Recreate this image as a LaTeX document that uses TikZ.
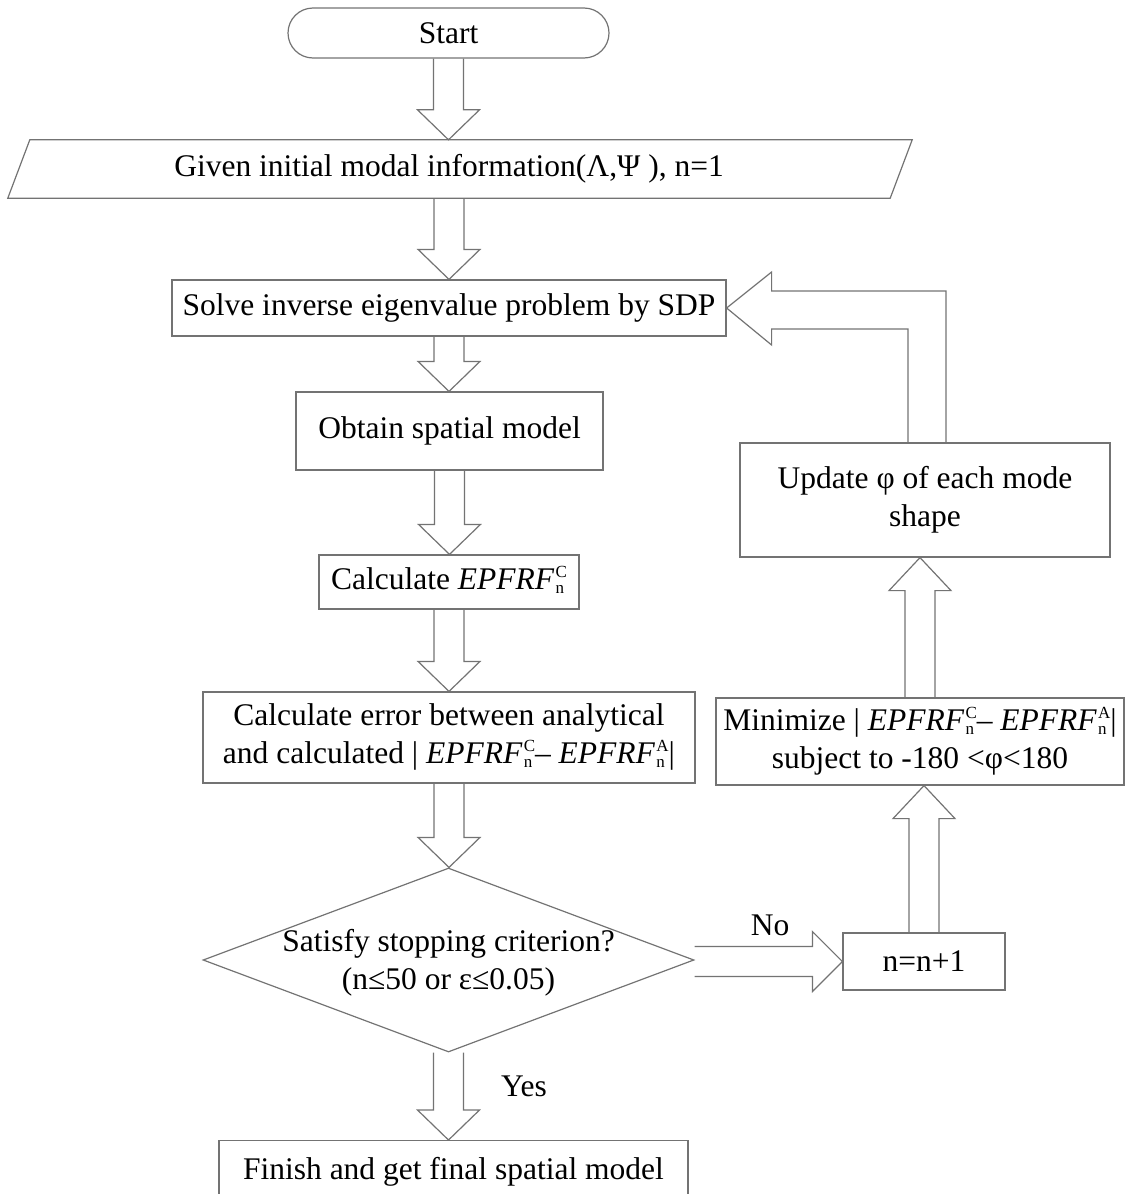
\documentclass[tikz,border=0pt]{standalone}
\usepackage{fontspec}
\setmainfont{Liberation Serif}
\usetikzlibrary{shapes.geometric,calc}
\definecolor{linec}{rgb}{0.45,0.45,0.45}
\newcommand\ep[1]{{\itshape EPFRF}\kern1.5pt\raisebox{-4pt}{\fontsize{17}{16}\selectfont\begin{tabular}[b]{@{}l@{}}#1\\n\end{tabular}}}
\newcommand\blkdown[2]{\draw[blk] let \p1=(#1.south), \p2=(#2.north) in
  (\x1-15pt,\y1) -- (\x1-15pt,\y2+30pt) -- (\x1-31pt,\y2+30pt) -- (\x1,\y2) --
  (\x1+31pt,\y2+30pt) -- (\x1+15pt,\y2+30pt) -- (\x1+15pt,\y1);}
\newcommand\blkup[2]{\draw[blk] let \p1=(#1.north), \p2=(#2.south) in
  (\x1-15pt,\y1) -- (\x1-15pt,\y2-33pt) -- (\x1-31pt,\y2-33pt) -- (\x1,\y2) --
  (\x1+31pt,\y2-33pt) -- (\x1+15pt,\y2-33pt) -- (\x1+15pt,\y1);}
\begin{document}
\begin{tikzpicture}[x=1pt,y=-1pt,
  every node/.style={font=\fontsize{31.5}{38}\selectfont},
  box/.style={draw=linec, line width=1.2pt, rectangle, inner sep=0pt, align=center},
  blk/.style={draw=linec, line width=1.2pt, line join=miter},
]
\useasboundingbox (0,0) rectangle (1126,1194);
\node[box, rounded corners=25pt, minimum width=321pt, minimum height=50pt] (start) at (448.5,33) {Start};
\node[minimum width=882pt, minimum height=58pt, inner sep=0pt] (given) at (449,169) {Given initial modal information(Λ,Ψ ), n=1};
\draw[blk] (given.south west) -- ($(given.north west)+(22,0)$) -- ($(given.north east)+(22,0)$) -- (given.south east) -- cycle;
\node[box, minimum width=554pt, minimum height=56pt] (solve) at (449,308) {Solve inverse eigenvalue problem by SDP};
\node[box, minimum width=307pt, minimum height=78pt] (obtain) at (449.5,431) {Obtain spatial model};
\node[box, minimum width=260pt, minimum height=54pt] (calc) at (449,582) {Calculate \ep{C}};
\node[box, minimum width=492pt, minimum height=91pt] (err) at (449,737.5) {Calculate error between analytical\\and calculated | \ep{C}– \ep{A}|};
\node[diamond, draw=linec, line width=1.2pt, minimum width=491pt, minimum height=184pt, inner sep=0pt, aspect=2.67] (dia) at (448.5,960) {};
\node[align=center] (diatext) at ($(dia.center)+(0,3)$) {Satisfy stopping criterion?\\(n≤50 or ε≤0.05)};
\node[box, minimum width=469pt, minimum height=62pt, anchor=north] (fin) at (453.5,1140) {Finish and get final spatial model};
\node[box, minimum width=162pt, minimum height=57pt] (nb) at (924,961.5) {n=n+1};
\node[box, minimum width=408pt, minimum height=87pt] (mini) at (920,741.5) {Minimize | \ep{C}– \ep{A}|\\subject to -180 <φ<180};
\node[box, minimum width=370pt, minimum height=114pt] (upd) at (925,500) {Update φ of each mode\\shape};
\node (no) at (770,925) {No};
\node (yes) at (524,1086) {Yes};
\blkdown{start}{given}
\blkdown{given}{solve}
\blkdown{solve}{obtain}
\blkdown{obtain}{calc}
\blkdown{calc}{err}
\blkdown{err}{dia}
\blkdown{dia}{fin}
\blkup{nb}{mini}
\blkup{mini}{upd}
\draw[blk] let \p1=(dia.east), \p2=(nb.west) in
  (\x1,\y2+15pt) -- (\x2-30pt,\y2+15pt) -- (\x2-30pt,\y2+30pt) -- (\x2,\y2) --
  (\x2-30pt,\y2-30pt) -- (\x2-30pt,\y2-15pt) -- (\x1,\y2-15pt);
\draw[blk] let \p1=(upd.north), \p2=(solve.east) in
  (\x1-17pt,\y1) -- (\x1-17pt,\y2-21pt) -- (\x2+45pt,\y2-21pt) -- (\x2+45pt,\y2-37pt) -- (\x2,\y2) --
  (\x2+45pt,\y2+36pt) -- (\x2+45pt,\y2+17pt) -- (\x1+21pt,\y2+17pt) -- (\x1+21pt,\y1);
\end{tikzpicture}
\end{document}
